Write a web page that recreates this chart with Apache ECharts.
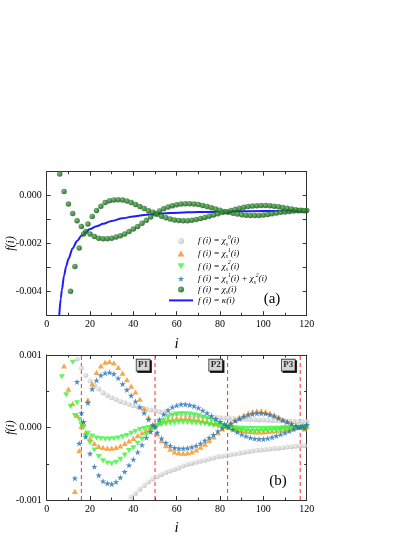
<!DOCTYPE html>
<html>
<head>
<meta charset="utf-8">
<script src="https://cdn.jsdelivr.net/npm/echarts@6/dist/echarts.min.js"></script>
<style>
  html, body { margin: 0; padding: 0; background: #fff; }
  #chart { width: 415px; height: 537px; }
</style>
</head>
<body>
<div id="chart"></div>
<script>
// sample positions: every curve has two interleaved branches (even / odd i)
const iEven = [6, 8, 10, 12, 14, 16, 18, 20, 22, 24, 26, 28, 30, 32, 34, 36, 38, 40, 42, 44,
  46, 48, 50, 52, 54, 56, 58, 60, 62, 64, 66, 68, 70, 72, 74, 76, 78, 80, 82, 84,
  86, 88, 90, 92, 94, 96, 98, 100, 102, 104, 106, 108, 110, 112, 114, 116, 118, 120]
const iOdd = [5, 7, 9, 11, 13, 15, 17, 19, 21, 23, 25, 27, 29, 31, 33, 35, 37, 39, 41, 43,
  45, 47, 49, 51, 53, 55, 57, 59, 61, 63, 65, 67, 69, 71, 73, 75, 77, 79, 81, 83,
  85, 87, 89, 91, 93, 95, 97, 99, 101, 103, 105, 107, 109, 111, 113, 115, 117, 119]

// all values below are in units of 1e-4
// panel (a): chi_s(i), even and odd branch
const chisEven = [9.0, 1.7, -3.5, -7.5, -10.5, -12.9, -15.0, -16.1, -17.1, -17.8,
  -18.0, -18.0, -17.8, -17.3, -16.8, -16.0, -15.0, -14.0, -12.9, -11.6,
  -10.3, -8.9, -7.6, -6.4, -5.5, -4.8, -4.2, -3.8, -3.55, -3.4,
  -3.4, -3.5, -3.75, -4.1, -4.6, -5.1, -5.6, -6.1, -6.6, -7.0,
  -7.4, -7.7, -8.0, -8.2, -8.3, -8.35, -8.3, -8.1, -7.9, -7.6,
  -7.3, -7.0, -6.8, -6.6, -6.4, -6.3, -6.2, -6.2]
const chisOdd = [null, null, null, -40, -29.6, -21.9, -16, -11.9, -8.75, -6.2,
  -4.4, -2.9, -2.1, -1.8, -1.7, -1.8, -2.2, -2.9, -3.7, -4.6,
  -5.4, -6.3, -7.0, -7.8, -8.6, -9.3, -9.8, -10.2, -10.4, -10.5,
  -10.5, -10.3, -10.0, -9.6, -9.1, -8.6, -8.1, -7.6, -7.1, -6.7,
  -6.2, -5.7, -5.3, -4.9, -4.6, -4.35, -4.2, -4.1, -4.1, -4.2,
  -4.4, -4.7, -5.0, -5.3, -5.6, -5.9, -6.1, -6.3]

// panel (a): kappa(i) curve
const kappaI = [5.8, 6.5, 7, 8, 9, 10, 12, 14, 16, 18, 20, 23, 26, 30, 35, 40, 45, 50, 57, 65, 75, 85, 95, 105, 120]
const kappaV = [-50, -43, -39.5, -33.5, -29.5, -26.5, -22, -19, -16.8, -15.2, -14, -12.8, -11.8, -10.6,
  -9.5, -8.7, -8.1, -7.7, -7.3, -7.0, -6.8, -6.6, -6.5, -6.4, -6.25]

// panel (b): chi_s^0
const chi0Even = [null, null, null, null, 9.4, 8.2, 7.2, 6.4, 5.8, 5.3,
  4.8, 4.4, 4.1, 3.85, 3.6, 3.4, 3.2, 3.0, 2.85, 2.7,
  2.55, 2.4, 2.3, 2.2, 2.1, 2.0, 1.95, 1.9, 1.85, 1.8,
  1.7, 1.65, 1.6, 1.55, 1.5, 1.45, 1.4, 1.35, 1.3, 1.28,
  1.25, 1.2, 1.17, 1.13, 1.1, 1.07, 1.05, 1.02, 1.0, 0.97,
  0.95, 0.93, 0.9, 0.88, 0.86, 0.84, 0.82, 0.8]
const chi0Odd = [null, null, null, null, null, null, null, null, null, null,
  null, null, null, null, null, null, null, -9.6, -9.1, -8.5,
  -8.0, -7.5, -7.1, -6.8, -6.5, -6.2, -6.0, -5.8, -5.6, -5.3,
  -5.1, -4.95, -4.8, -4.65, -4.5, -4.35, -4.2, -4.05, -3.95, -3.85,
  -3.75, -3.65, -3.55, -3.45, -3.35, -3.25, -3.15, -3.1, -3.05, -2.95,
  -2.9, -2.85, -2.8, -2.7, -2.65, -2.6, -2.55, -2.5]

// panel (b): chi_s^1
const chi1Even = [null, 8.5, 5.3, 3.3, 1.7, 0.2, -0.7, -1.5, -2.2, -2.6,
  -2.75, -2.85, -2.85, -2.75, -2.55, -2.2, -1.85, -1.5, -1.1, -0.75,
  -0.4, -0.1, 0.2, 0.6, 0.9, 1.1, 1.2, 1.3, 1.3, 1.3,
  1.3, 1.2, 1.1, 0.95, 0.8, 0.65, 0.5, 0.35, 0.2, 0.0,
  -0.15, -0.3, -0.4, -0.5, -0.55, -0.6, -0.6, -0.6, -0.55, -0.5,
  -0.45, -0.35, -0.3, -0.2, -0.1, 0.0, 0.05, 0.1]
const chi1Odd = [null, null, null, null, -8.8, -3.2, 0.6, 3.8, 6.0, 7.6,
  8.5, 9.0, 9.1, 8.9, 8.3, 7.5, 6.6, 5.7, 4.9, 3.9,
  2.6, 1.4, 0.4, -0.9, -1.8, -2.5, -3.0, -3.35, -3.5, -3.55,
  -3.5, -3.35, -3.1, -2.7, -2.3, -1.8, -1.3, -0.7, -0.2, 0.2,
  0.6, 1.0, 1.4, 1.7, 2.0, 2.2, 2.3, 2.3, 2.2, 2.0,
  1.75, 1.45, 1.1, 0.8, 0.5, 0.25, 0.0, -0.2]

// panel (b): chi_s^2
const chi2Even = [null, null, null, 9.0, 3.4, 0.4, -1.2, -2.1, -3.1, -4.0,
  -4.6, -4.9, -5.0, -4.8, -4.4, -3.8, -3.2, -2.8, -2.2, -1.6,
  -1.0, -0.5, 0.0, 0.6, 1.0, 1.4, 1.65, 1.8, 1.9, 1.9,
  1.85, 1.75, 1.6, 1.4, 1.2, 1.0, 0.75, 0.5, 0.3, 0.05,
  -0.15, -0.3, -0.4, -0.5, -0.55, -0.55, -0.55, -0.5, -0.45, -0.4,
  -0.35, -0.3, -0.2, -0.15, -0.1, 0.0, 0.05, 0.1]
const chi2Odd = [null, 7.0, 4.5, 2.9, 1.65, 1.1, 0.0, -0.8, -1.2, -1.45,
  -1.55, -1.6, -1.6, -1.55, -1.45, -1.3, -1.1, -0.8, -0.55, -0.3,
  -0.15, 0.0, 0.1, 0.25, 0.4, 0.5, 0.6, 0.65, 0.7, 0.7,
  0.7, 0.65, 0.6, 0.55, 0.5, 0.4, 0.3, 0.25, 0.15, 0.05,
  0.0, -0.05, -0.1, -0.1, -0.15, -0.15, -0.15, -0.15, -0.15, -0.1,
  -0.1, -0.1, -0.05, -0.05, 0.0, 0.0, 0.05, 0.1]

// panel (b): chi_s^1 + chi_s^2
const chi12Even = [null, null, null, null, 6.3, 2.0, -1.3, -3.6, -5.4, -6.6,
  -7.4, -7.7, -7.8, -7.5, -6.9, -6.1, -5.2, -4.4, -3.4, -2.4,
  -1.4, -0.6, 0.1, 1.1, 1.8, 2.4, 2.8, 3.05, 3.2, 3.2,
  3.1, 2.95, 2.7, 2.35, 2.0, 1.6, 1.2, 0.8, 0.45, 0.05,
  -0.3, -0.65, -0.95, -1.2, -1.4, -1.55, -1.6, -1.6, -1.5, -1.35,
  -1.15, -0.95, -0.75, -0.5, -0.25, 0.0, 0.2, 0.35]
const chi12Odd = [null, null, null, null, -7.0, -2.2, 0.8, 3.4, 5.3, 6.5,
  7.2, 7.5, 7.6, 7.4, 6.8, 6.0, 5.2, 4.4, 3.6, 2.8,
  2.0, 1.1, 0.3, -0.7, -1.5, -2.1, -2.5, -2.8, -2.9, -2.9,
  -2.85, -2.7, -2.5, -2.2, -1.8, -1.4, -1.0, -0.5, -0.1, 0.25,
  0.55, 0.9, 1.2, 1.5, 1.7, 1.85, 1.95, 1.95, 1.9, 1.75,
  1.55, 1.3, 1.0, 0.75, 0.5, 0.25, 0.05, -0.1]

// crossing points marked by dashed lines in panel (b)
const crossI = [16, 50, 83.5, 117]
const crossNames = ['P1', 'P2', 'P3']

const UNIT = 1e-4
const toPoints = (xs, ys) => xs.map((x, k) => (ys[k] == null ? null : [x, ys[k] * UNIT])).filter(Boolean)
const branches = (ys1, ys2) => toPoints(iEven, ys1).concat(toPoints(iOdd, ys2))

const FONT = 'Liberation Serif'
const AXIS_COLOR = '#333'
const BLUE_LINE = '#1d1dff'

const TRI_UP = 'path://M5,0L10,8.66L0,8.66Z'
const TRI_DOWN = 'path://M0,0L10,0L5,8.66Z'
const STAR = 'path://M5,0L6.18,3.62L10,3.62L6.91,5.86L8.09,9.51L5,7.27L1.91,9.51L3.09,5.86L0,3.62L3.82,3.62Z'
const LINE_ICON = 'path://M0,0L24,0L24,2L0,2Z'

const sphere = (c0, c1) => ({
  type: 'radial', x: 0.35, y: 0.35, r: 0.7,
  colorStops: [{ offset: 0, color: c0 }, { offset: 1, color: c1 }],
})

const tickStyle = { lineStyle: { color: AXIS_COLOR, width: 1 } }

function xAxisOf(gridIndex, top) {
  return {
    type: 'value', gridIndex, position: top ? 'top' : 'bottom',
    min: 0, max: 120, interval: 20,
    axisLine: { onZero: false, lineStyle: { color: AXIS_COLOR, width: 1 } },
    axisTick: { inside: true, length: 4, ...tickStyle },
    minorTick: { show: true, splitNumber: 2, length: 2.5, ...tickStyle },
    splitLine: { show: false },
    axisLabel: { show: !top, color: '#000', fontFamily: FONT, fontSize: 10, margin: 4 },
    name: top ? '' : 'i', nameLocation: 'middle', nameGap: 21, nameMoveOverlap: false,
    nameTextStyle: { fontFamily: FONT, fontStyle: 'italic', fontSize: 15, color: '#000' },
  }
}

function yAxisOf(gridIndex, right, min, max, minor, labelFilter) {
  return {
    type: 'value', gridIndex, position: right ? 'right' : 'left',
    min, max, interval: 0.001,
    axisLine: { onZero: false, lineStyle: { color: AXIS_COLOR, width: 1 } },
    axisTick: { inside: true, length: 4, ...tickStyle },
    minorTick: { show: minor, splitNumber: 2, length: 2.5, ...tickStyle },
    splitLine: { show: false },
    axisLabel: {
      show: !right, color: '#000', fontFamily: FONT, fontSize: 10, margin: 5,
      formatter: v => (labelFilter(v) ? v.toFixed(3) : ''),
    },
    name: right ? '' : 'f(i)', nameLocation: 'middle', nameGap: 30, nameRotate: 90,
    nameMoveOverlap: false,
    nameTextStyle: { fontFamily: FONT, fontStyle: 'italic', fontSize: 12, color: '#000' },
  }
}

const legendText = {
  chi0: '{t|f (i) = χ}{sub|s}{sup|0}{t|(i)}',
  chi1: '{t|f (i) = χ}{sub|s}{sup|1}{t|(i)}',
  chi2: '{t|f (i) = χ}{sub|s}{sup|2}{t|(i)}',
  chi12: '{t|f (i) = χ}{sub|s}{sup|1}{t|(i) + χ}{sub|s}{sup|2}{t|(i)}',
  chis: '{t|f (i) = χ}{sub|s}{t|(i)}',
  kappa: '{t|f (i) = κ(i)}',
}

// vertical dashed lines through the crossing points, spanning panel (b)
const crossSeries = crossI.map(x => ({
  type: 'line', xAxisIndex: 1, yAxisIndex: 1,
  data: [[x, -0.001], [x, 0.001]],
  showSymbol: false, silent: true, z: 1,
  lineStyle: { color: '#ff2a2a', type: [4, 3], width: 1 },
}))

const chart = echarts.init(document.getElementById('chart'))

const option = {
  animation: false,
  backgroundColor: '#fff',
  grid: [
    { left: 46.7, top: 171.7, width: 260, height: 143.5, outerBoundsMode: 'none' },
    { left: 46.7, top: 355, width: 260, height: 145, outerBoundsMode: 'none' },
  ],
  xAxis: [xAxisOf(0, false), xAxisOf(1, false), xAxisOf(0, true), xAxisOf(1, true)],
  yAxis: [
    yAxisOf(0, false, -0.005, 0.001, false, v => Math.round(v * 1e4) % 20 === 0),
    yAxisOf(1, false, -0.001, 0.001, true, () => true),
    yAxisOf(0, true, -0.005, 0.001, false, () => false),
    yAxisOf(1, true, -0.001, 0.001, true, () => false),
  ],
  legend: {
    orient: 'vertical', left: 164, top: 229.7,
    itemWidth: 24, itemHeight: 6, itemGap: 0,
    selectedMode: false, symbolKeepAspect: true,
    data: [
      { name: 'chi0', icon: 'circle' },
      { name: 'chi1', icon: TRI_UP },
      { name: 'chi2', icon: TRI_DOWN },
      { name: 'chi12', icon: STAR },
      { name: 'chis', icon: 'circle' },
      { name: 'kappa', icon: LINE_ICON },
    ],
    formatter: name => legendText[name],
    textStyle: {
      rich: {
        t: { fontFamily: FONT, fontStyle: 'italic', fontSize: 9, color: '#000', lineHeight: 12.6 },
        sub: { fontFamily: FONT, fontStyle: 'italic', fontSize: 5.5, color: '#000', lineHeight: 6.5, verticalAlign: 'bottom' },
        sup: { fontFamily: FONT, fontStyle: 'italic', fontSize: 5.5, color: '#000', lineHeight: 6.5, verticalAlign: 'top' },
      },
    },
  },
  graphic: [
    { type: 'text', x: 272, y: 299, style: { text: '(a)', fontFamily: FONT, fontSize: 15, fill: '#000', align: 'center', verticalAlign: 'middle' } },
    { type: 'text', x: 278, y: 481, style: { text: '(b)', fontFamily: FONT, fontSize: 15, fill: '#000', align: 'center', verticalAlign: 'middle' } },
  ],
  series: [
    // panel (a)
    {
      name: 'kappa', type: 'line', xAxisIndex: 0, yAxisIndex: 0,
      data: toPoints(kappaI, kappaV),
      smooth: 0.3, smoothMonotone: 'x', showSymbol: false, clip: true,
      lineStyle: { width: 2, color: BLUE_LINE }, itemStyle: { color: BLUE_LINE },
      silent: true, z: 2,
    },
    {
      name: 'chis', type: 'scatter', xAxisIndex: 0, yAxisIndex: 0,
      data: branches(chisEven, chisOdd),
      symbol: 'circle', symbolSize: 5.5, clip: true, silent: true, z: 3,
      itemStyle: { color: sphere('#4fae4f', '#0a4a0a') },
    },
    // panel (b)
    ...crossSeries,
    {
      name: 'chi0', type: 'scatter', xAxisIndex: 1, yAxisIndex: 1,
      data: branches(chi0Even, chi0Odd),
      symbol: 'circle', symbolSize: 5, clip: true, silent: true, z: 2,
      itemStyle: { color: sphere('#ededed', '#b8b8b8') },
    },
    {
      name: 'chi1', type: 'scatter', xAxisIndex: 1, yAxisIndex: 1,
      data: branches(chi1Even, chi1Odd),
      symbol: TRI_UP, symbolSize: 6, symbolKeepAspect: true, clip: true, silent: true, z: 3,
      itemStyle: { color: '#f8911c' },
    },
    {
      name: 'chi2', type: 'scatter', xAxisIndex: 1, yAxisIndex: 1,
      data: branches(chi2Even, chi2Odd),
      symbol: TRI_DOWN, symbolSize: 6, symbolKeepAspect: true, clip: true, silent: true, z: 4,
      itemStyle: { color: '#36f536' },
    },
    {
      name: 'chi12', type: 'scatter', xAxisIndex: 1, yAxisIndex: 1,
      data: branches(chi12Even, chi12Odd),
      symbol: STAR, symbolSize: 6.5, symbolKeepAspect: true, clip: true, silent: true, z: 5,
      itemStyle: { color: '#2471b3' },
    },
    {
      // boxed P1..P3 tags, anchored just left of the dashed lines, near the top
      name: 'tags', type: 'scatter', xAxisIndex: 1, yAxisIndex: 1,
      data: crossNames.map((n, k) => ({ name: n, value: [crossI[k + 1] - 5.5, 0.00086] })),
      symbolSize: 0, itemStyle: { color: 'transparent' }, silent: true, z: 10,
      label: {
        show: true, position: 'inside', formatter: '{b}',
        fontFamily: FONT, fontWeight: 'bold', fontSize: 9, color: '#000',
        backgroundColor: '#fff', borderColor: '#000', borderWidth: 0.8,
        padding: [1.5, 1.5, 0.5, 1.5],
        shadowColor: '#000', shadowOffsetX: 1.5, shadowOffsetY: 1.5, shadowBlur: 0,
      },
    },
  ],
}

chart.setOption(option)
</script>
</body>
</html>
